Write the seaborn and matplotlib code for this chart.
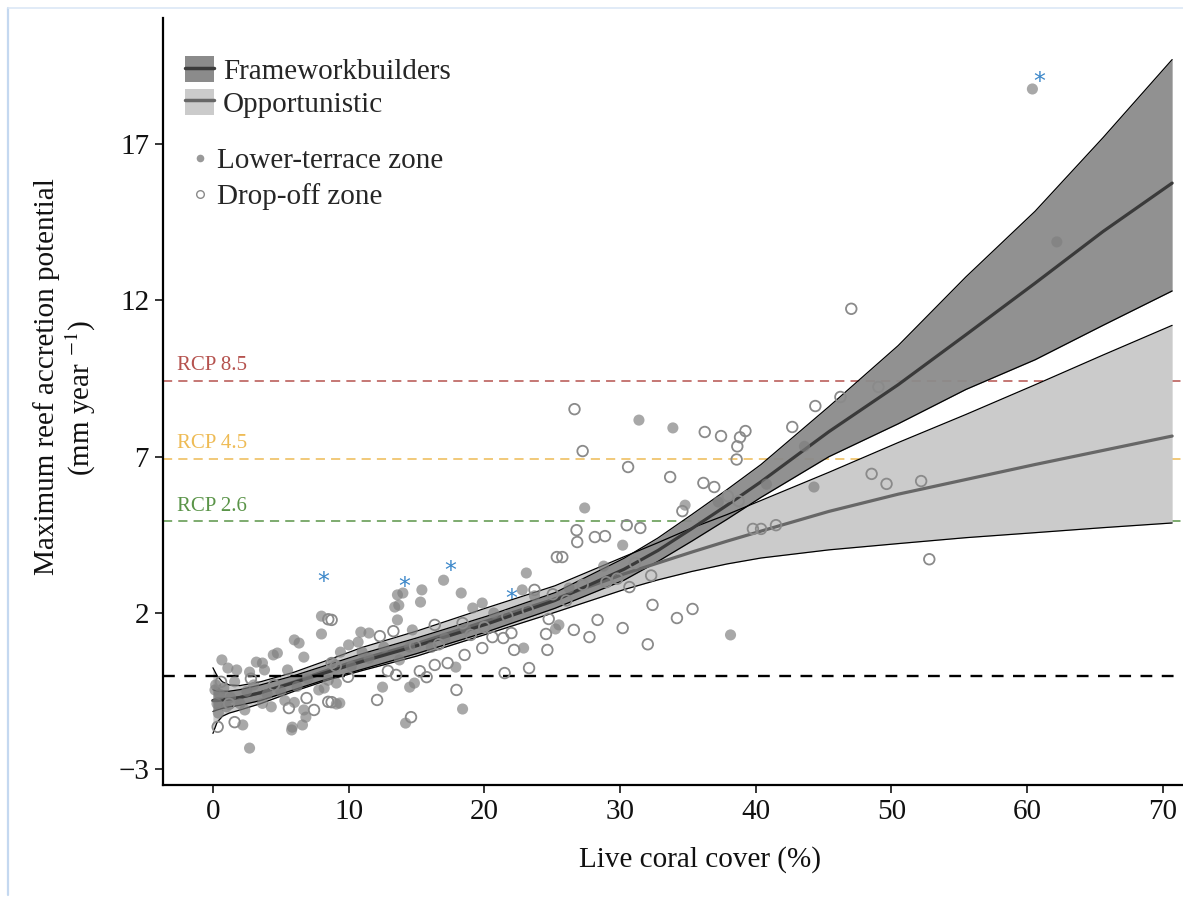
import matplotlib
matplotlib.use("Agg")
import numpy as np
import pandas as pd
import seaborn as sns
import matplotlib.pyplot as plt
from matplotlib.patches import Patch
from matplotlib.lines import Line2D

# ---------------- data ----------------
lower_x = [8.0, 8.0, 6.0, 6.35, 4.75, 4.45, 6.7, 3.2, 3.65, 0.66, 1.1, 1.75, 2.7, 3.8, 5.5,
           9.4, 10.0, 10.7, 10.9, 0.15, 8.2, 7.8, 5.3, 6.0, 3.65, 2.35, 1.0, 9.1, 6.7, 6.85,
           6.6, 5.85, 5.8, 2.2, 2.7,
           14.0, 13.6, 15.4, 17.0, 18.3, 15.3, 13.4, 13.7, 13.6, 11.5, 12.6, 14.7, 14.5,
           11.0, 8.85, 13.75, 12.5, 14.5, 14.85, 9.35, 14.2, 18.4, 17.9, 19.85, 19.15, 9.1,
           31.4, 33.9, 27.4, 30.2, 23.1, 22.8, 25.5, 25.25, 22.9, 34.8,
           43.6, 40.8, 44.3, 37.25, 38.15, 60.4, 62.2,
           0.2, 0.3, 0.5, 0.4, 0.8, 1.3, 1.6, 2.0, 2.5, 3.0, 4.0, 4.3, 5.0, 6.2, 7.0, 8.5,
           10.2, 11.5, 16.1, 17.1, 18.6, 20.7, 23.7, 26.25, 28.8]
lower_y = [1.9, 1.33, 1.14, 1.04, 0.72, 0.66, 0.59, 0.43, 0.40, 0.5, 0.24, 0.18, 0.11, 0.18, 0.18,
           0.75, 0.98, 1.07, 1.39, -0.46, -0.4, -0.46, -0.8, -0.86, -0.89, -1.1, -1.0, -0.91, -1.1, -1.33,
           -1.58, -1.65, -1.74, -1.58, -2.32,
           2.64, 2.58, 2.74, 3.05, 2.64, 2.35, 2.19, 2.25, 1.78, 1.36, 0.91, 1.46, 0.91,
           0.75, 0.40, 0.5, -0.37, -0.37, -0.24, -0.88, -1.52, -1.07, 0.27, 2.32, 2.16, -0.24,
           8.17, 7.92, 5.36, 4.17, 3.28, 2.74, 1.62, 1.49, 0.88, 5.45,
           7.33, 6.12, 6.03, 5.55, 1.3, 18.76, 13.87,
           -0.3, -0.9, -0.6, -1.2, -0.4, -0.7, -0.2, -0.9, -0.5, -0.3, -0.6, -1.0, -0.5, -0.35, -0.1, -0.15,
           0.3, 0.55, 0.9, 1.2, 1.5, 2.0, 2.55, 2.8, 3.5]

drop_x = [8.5, 6.9, 8.5, 7.45, 5.6, 1.6, 0.35, 9.95, 8.75,
          8.75, 12.3, 13.3, 16.35, 18.4, 15.25, 15.75, 13.5, 16.35, 17.3, 18.55, 19.85, 20.6, 21.4,
          22.0, 22.2, 17.95, 12.1, 14.6, 8.75, 21.5,
          26.65, 27.25, 30.6, 33.7, 26.8, 26.85, 28.15, 28.9, 30.5, 31.5, 25.35, 25.75, 23.7, 32.4,
          35.35, 34.2, 28.35, 26.6, 27.75, 30.2, 24.55, 24.65, 23.3, 32.05, 24.75, 30.7, 29.0, 25.05,
          36.25, 37.45, 38.85, 39.25, 38.65, 38.6, 36.15, 36.95, 37.95, 38.75, 42.7, 44.4, 46.25, 49.05,
          48.55, 49.65, 52.2, 39.8, 40.4, 41.5, 52.8, 34.6, 47.05,
          0.6, 1.2, 2.8, 4.5, 9.05, 12.9, 14.9, 16.65, 19.0, 20.0, 21.7, 23.2, 26.05, 27.25, 29.8,
          31.1, 32.3]
drop_y = [1.8, -0.72, -0.84, -1.1, -1.04, -1.49, -1.64, -0.04, 0.40,
          1.78, 1.26, 1.42, 1.62, 1.68, 0.14, -0.05, 0.02, 0.34, 0.40, 0.66, 0.88, 1.23, 1.2,
          1.36, 0.82, -0.46, -0.78, -1.33, -0.85, 0.08,
          8.52, 7.18, 6.67, 6.35, 4.65, 4.27, 4.43, 4.46, 4.81, 4.72, 3.79, 3.79, 2.74, 2.26,
          2.13, 1.84, 1.78, 1.46, 1.23, 1.52, 1.33, 0.82, 0.24, 1.0, 1.81, 2.83, 2.99, 2.6,
          7.79, 7.66, 7.62, 7.82, 7.33, 6.91, 6.16, 6.03, 5.74, 5.58, 7.95, 8.62, 8.91, 9.23,
          6.45, 6.13, 6.22, 4.69, 4.69, 4.81, 3.72, 5.26, 11.73,
          -0.2, -0.9, -0.1, -0.3, 0.3, 0.15, 0.95, 1.0, 1.3, 1.55, 1.9, 2.1, 2.4, 2.9, 3.1,
          3.6, 3.2]

# fitted curves
curve_x = [0, 0.3, 0.7, 1.2, 2, 3.5, 6, 8.5, 11, 15, 20.2, 25.2, 30.3, 32.8, 35.3, 37.9,
           40.4, 45.4, 50.5, 55.5, 60.6, 65.6, 70.7]
fw_up = [-0.45, -0.5, -0.5, -0.5, -0.45, -0.3, 0.0, 0.35, 0.7, 1.2, 1.9, 2.65, 3.75, 4.4,
         5.15, 5.95, 6.75, 8.6, 10.55, 12.75, 14.85, 17.2, 19.7]
fw_mean = [-0.8, -0.8, -0.78, -0.75, -0.7, -0.55, -0.22, 0.12, 0.45, 0.95, 1.65, 2.4, 3.4, 4.0,
           4.7, 5.45, 6.2, 7.8, 9.3, 10.9, 12.55, 14.2, 15.75]
fw_low = [-1.15, -1.1, -1.05, -1.0, -0.95, -0.8, -0.45, -0.1, 0.2, 0.7, 1.4, 2.15, 3.05, 3.65,
          4.3, 5.0, 5.7, 7.0, 8.05, 9.15, 10.1, 11.2, 12.3]
op_up = [0.25, 0.0, -0.2, -0.3, -0.32, -0.2, 0.11, 0.5, 0.9, 1.42, 2.17, 2.87, 3.8, 4.25,
         4.72, 5.15, 5.6, 6.5, 7.45, 8.35, 9.3, 10.25, 11.2]
op_mean = [-0.8, -0.75, -0.75, -0.75, -0.7, -0.55, -0.2, 0.18, 0.53, 1.02, 1.75, 2.45, 3.25, 3.6,
           3.95, 4.3, 4.62, 5.25, 5.8, 6.27, 6.75, 7.2, 7.66]
op_low = [-1.85, -1.5, -1.3, -1.2, -1.1, -0.9, -0.5, -0.14, 0.16, 0.62, 1.33, 2.02, 2.75, 3.06,
          3.33, 3.57, 3.76, 4.02, 4.22, 4.41, 4.57, 4.73, 4.88]

star_x = [8.1, 14.1, 17.5, 22.0, 60.9]
star_y = [2.99, 2.83, 3.34, 2.45, 18.98]

rcp_names = ["RCP 8.5", "RCP 4.5", "RCP 2.6"]
rcp_values = [9.42, 6.93, 4.93]
rcp_colors = ["#b5524e", "#eebb55", "#5a9448"]

x_ticks = [0, 10, 20, 30, 40, 50, 60, 70]
y_ticks = [-3, 2, 7, 12, 17]

# ---------------- plot ----------------
sns.set_style("ticks")
plt.rcParams["font.family"] = ["Liberation Serif", "DejaVu Serif"]
plt.rcParams["mathtext.fontset"] = "stix"

W, H = 1183, 906
fig = plt.figure(figsize=(W / 100, H / 100), dpi=100)
ax = fig.add_axes([163 / W, 121 / H, 1020 / W, 767 / H])

# bands
ax.fill_between(curve_x, op_low, op_up, color="#cbcbcb", lw=0, zorder=1)
ax.fill_between(curve_x, fw_low, fw_up, color="#8b8b8b", alpha=0.95, lw=0, zorder=1.5)
for arr in (op_low, op_up, fw_low, fw_up):
    sns.lineplot(x=curve_x, y=arr, ax=ax, color="black", lw=0.9, sort=False,
                 estimator=None, legend=False, zorder=2)
sns.lineplot(x=curve_x, y=op_mean, ax=ax, color="#676767", lw=2.3, sort=False,
             estimator=None, legend=False, zorder=2.2)
sns.lineplot(x=curve_x, y=fw_mean, ax=ax, color="#3a3a3a", lw=2.3, sort=False,
             estimator=None, legend=False, zorder=2.3)

# reference lines
ax.axhline(0, color="black", lw=1.7, dashes=(5, 4), zorder=2.5)
for name, val, col in zip(rcp_names, rcp_values, rcp_colors):
    ax.axhline(val, color=col, lw=1.1, dashes=(6, 4), zorder=0.8)
    ax.text(-2.65, val + 0.18, name, color=col, fontsize=15, ha="left", va="bottom")

# points
sns.scatterplot(x=lower_x, y=lower_y, ax=ax, color="#7f7f7f", alpha=0.68, s=64,
                edgecolor="none", legend=False, zorder=3)
sns.scatterplot(x=drop_x, y=drop_y, ax=ax, marker="o", s=58, facecolors="none",
                edgecolors="#8a8a8a", linewidth=1.3, legend=False, zorder=3)

for sx, sy in zip(star_x, star_y):
    ax.text(sx, sy, "*", color="#3b87c9", fontsize=17, ha="center", va="center",
            family="DejaVu Sans", zorder=4)

# axes styling
ax.set_xlim(-3.68, 71.5)
ax.set_ylim(-3.5, 21.03)
ax.set_xticks(x_ticks)
ax.set_yticks(y_ticks)
ax.tick_params(labelsize=21, length=6, width=1.1, direction="out", pad=4, color="black",
               labelcolor="#111111")
sns.despine(ax=ax)
for sp in ("left", "bottom"):
    ax.spines[sp].set_linewidth(1.6)
    ax.spines[sp].set_color("black")

ax.set_xlabel("Live coral cover (%)", fontsize=21, color="#111111")
ax.xaxis.set_label_coords(0.526, -0.08)
ax.set_ylabel("")
fig.text(47 / W, 1 - 377 / H, "Maximum reef accretion potential", rotation=90,
         ha="center", va="center", fontsize=21, color="#111111")
fig.text(81 / W, 1 - 398 / H, "(mm year $^{-1}$)", rotation=90,
         ha="center", va="center", fontsize=21, color="#111111")

# legends
h1 = (Patch(facecolor="#8b8b8b", edgecolor="none"), Line2D([], [], color="#3a3a3a", lw=2.5))
h2 = (Patch(facecolor="#cbcbcb", edgecolor="none"), Line2D([], [], color="#676767", lw=2.5))
leg1 = ax.legend([h1, h2], ["Frameworkbuilders", "Opportunistic"], loc="upper left",
                 bbox_to_anchor=(0.0216, 0.950), frameon=False, fontsize=21,
                 handlelength=1.0, handleheight=1.0, handletextpad=0.3,
                 labelspacing=0.12, borderpad=0, borderaxespad=0)
ax.add_artist(leg1)
m1 = Line2D([], [], marker="o", ls="none", markersize=5.5, markerfacecolor="#999999",
            markeredgecolor="none")
m2 = Line2D([], [], marker="o", ls="none", markersize=5.5, markerfacecolor="none",
            markeredgecolor="#8a8a8a", markeredgewidth=1.0)
ax.legend([m1, m2], ["Lower-terrace zone", "Drop-off zone"], loc="upper left",
          bbox_to_anchor=(0.0216, 0.831), frameon=False, fontsize=21,
          handlelength=1.0, handletextpad=0.1, labelspacing=0.3, borderpad=0,
          borderaxespad=0)

# faint page border seen in the reference
fig.add_artist(Line2D([8 / W, 8 / W], [0.012, 1 - 8 / H], transform=fig.transFigure,
                      color="#c4d8f0", lw=1.6))
fig.add_artist(Line2D([8 / W, 1], [1 - 8 / H, 1 - 8 / H], transform=fig.transFigure,
                      color="#dce8f6", lw=1.2))

fig.savefig("out.png", dpi=100)
